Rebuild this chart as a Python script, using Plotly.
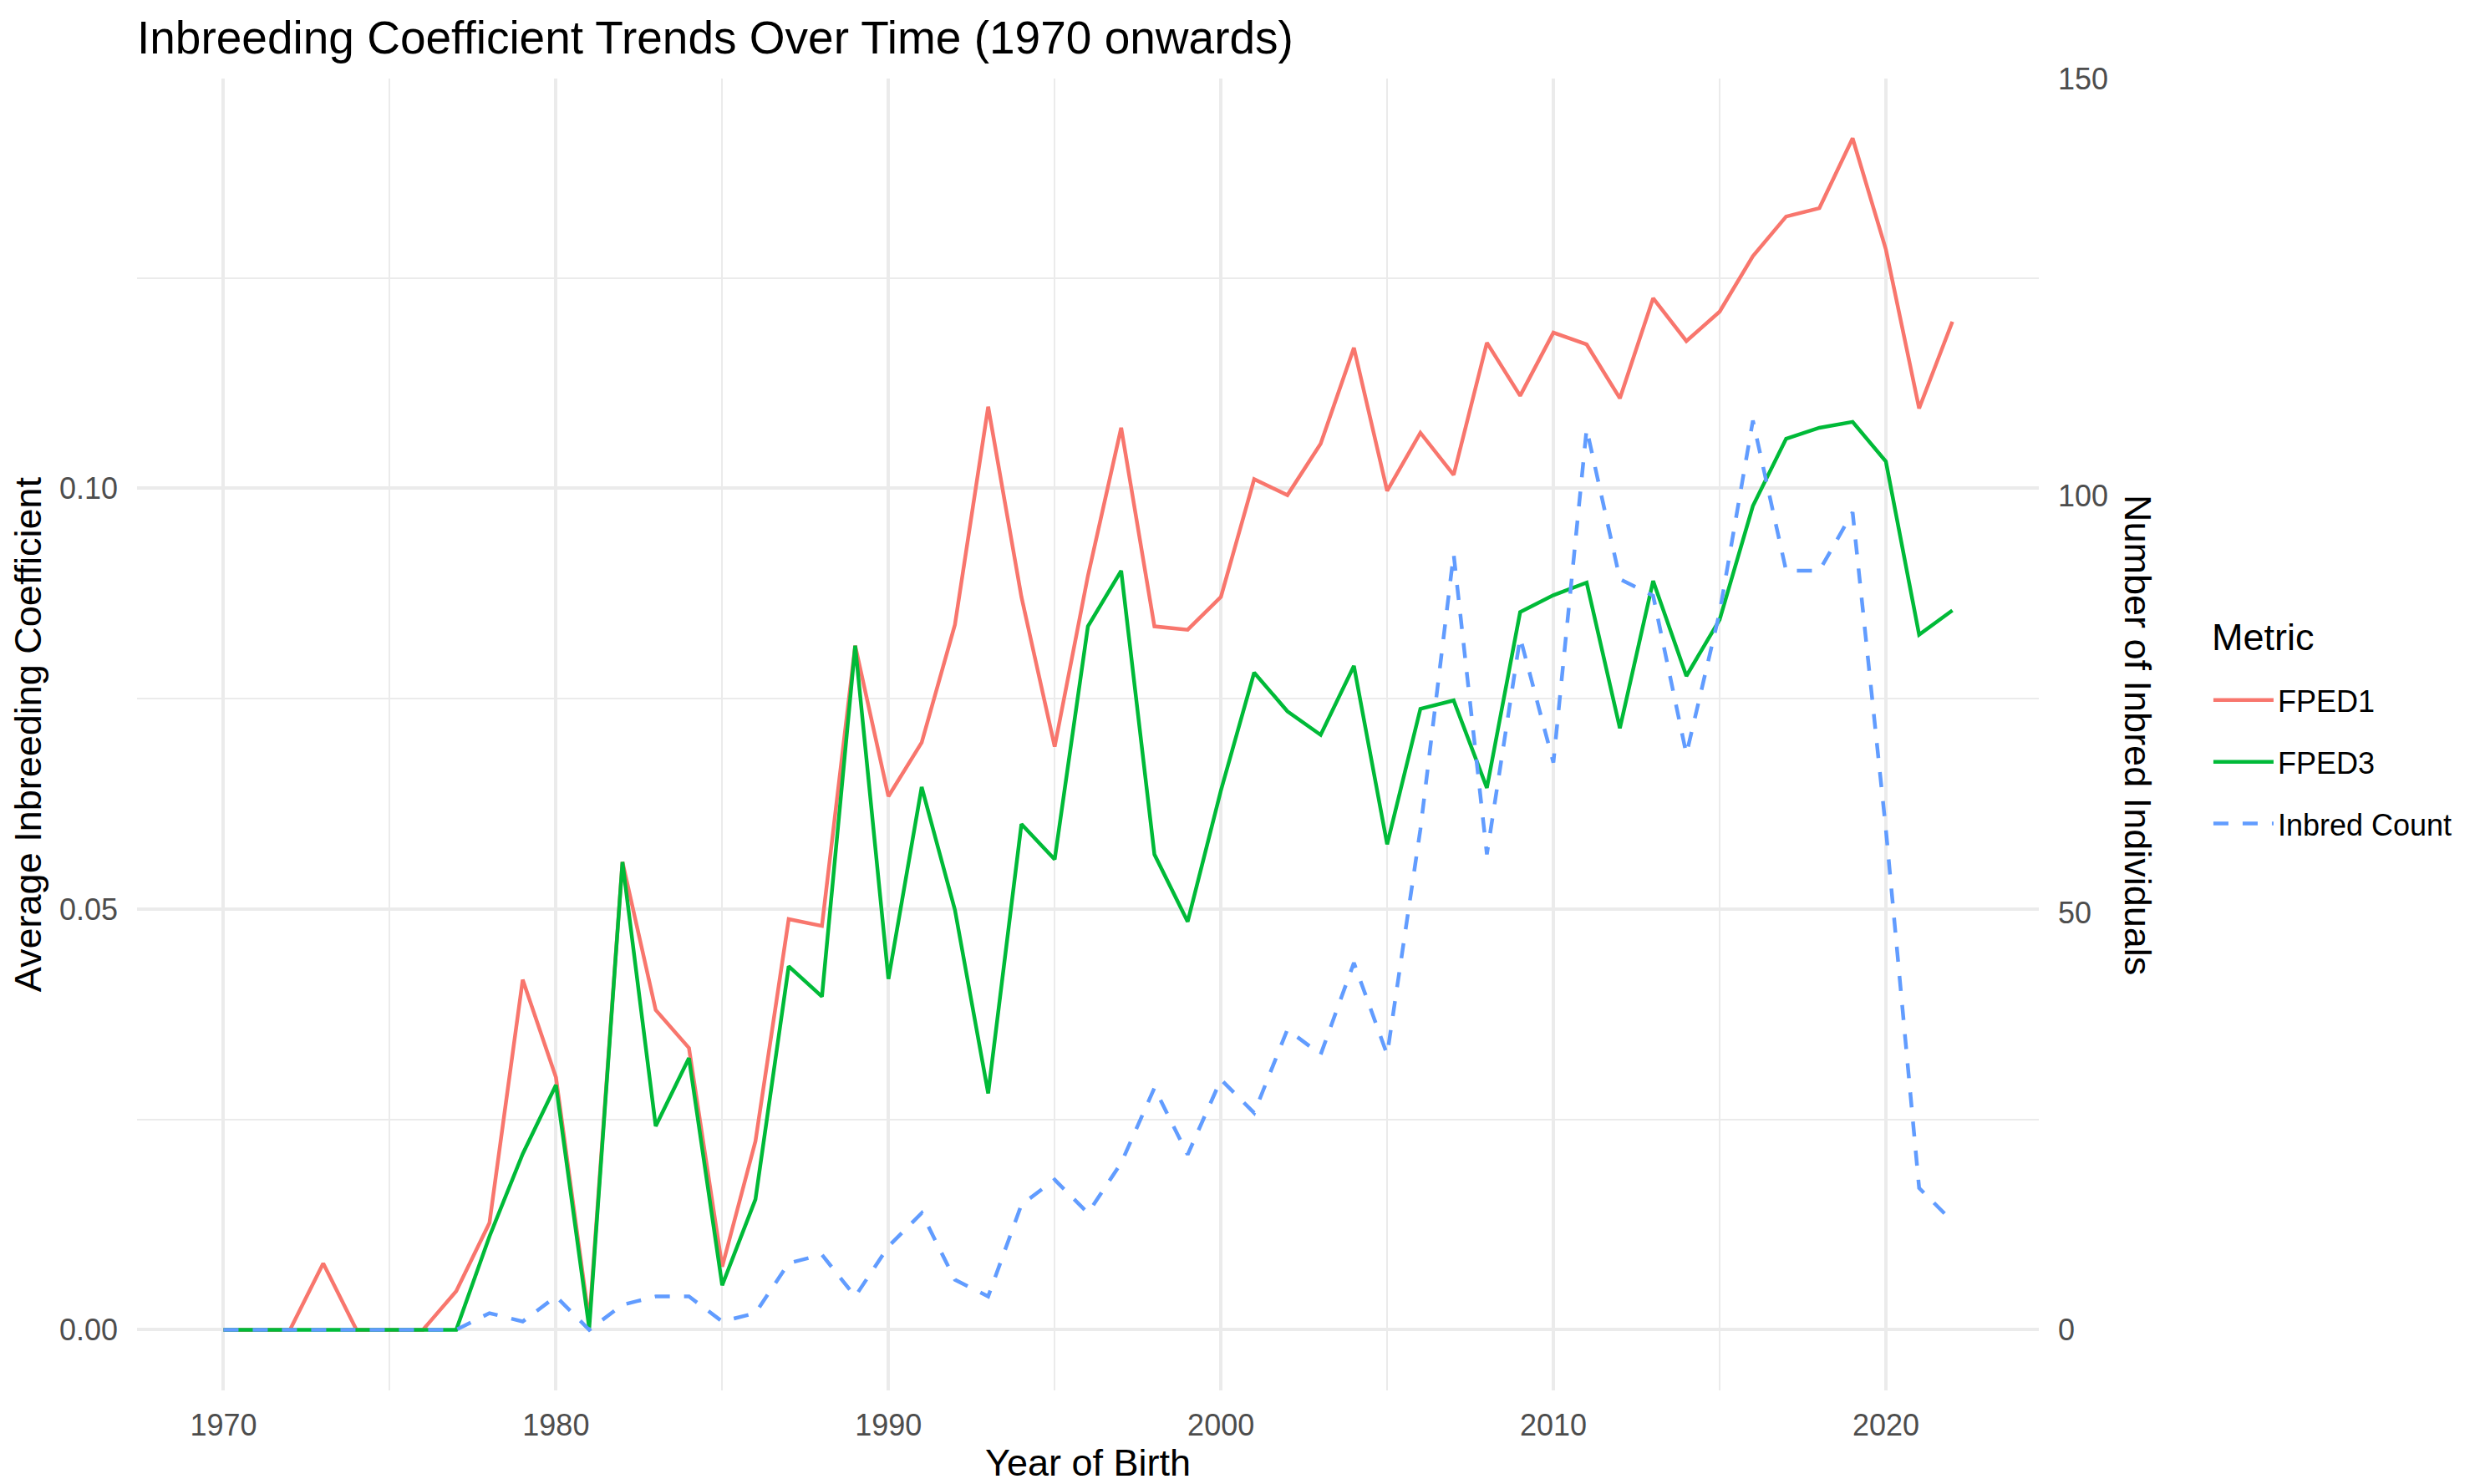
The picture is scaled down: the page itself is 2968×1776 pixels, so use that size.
import plotly.graph_objects as go

years = list(range(1970, 2023))

fped1 = [0, 0, 0, 0.0079, 0, 0, 0, 0.0046, 0.0127, 0.0416,
         0.0300, 0.0010, 0.0556, 0.0380, 0.0335, 0.0075, 0.0224, 0.0488, 0.0480, 0.0813,
         0.0634, 0.0698, 0.0838, 0.1097, 0.0871, 0.0693, 0.0896, 0.1072, 0.0836, 0.0832,
         0.0871, 0.1011, 0.0992, 0.1053, 0.1167, 0.0997, 0.1066, 0.1016, 0.1173, 0.1110,
         0.1185, 0.1171, 0.1107, 0.1226, 0.1175, 0.1210, 0.1276, 0.1323, 0.1333, 0.1416,
         0.1284, 0.1095, 0.1198]

fped3 = [0, 0, 0, 0, 0, 0, 0, 0, 0.0111, 0.0209,
         0.0291, 0.0002, 0.0556, 0.0242, 0.0323, 0.0053, 0.0155, 0.0432, 0.0396, 0.0813,
         0.0417, 0.0645, 0.0499, 0.0281, 0.0601, 0.0559, 0.0836, 0.0902, 0.0565, 0.0485,
         0.0641, 0.0781, 0.0735, 0.0707, 0.0789, 0.0577, 0.0738, 0.0748, 0.0644, 0.0853,
         0.0873, 0.0888, 0.0715, 0.0890, 0.0777, 0.0844, 0.0979, 0.1059, 0.1072, 0.1079,
         0.1032, 0.0826, 0.0855]

inbred_count = [0, 0, 0, 0, 0, 0, 0, 0, 2, 1,
                4, 0, 3, 4, 4, 1, 2, 8, 9, 4,
                10, 14, 6, 4, 15, 18, 14, 20, 29, 21,
                30, 26, 36, 33, 44, 33, 60, 93, 57, 83,
                68, 108, 90, 88, 69, 86, 109, 91, 91, 98,
                60, 17, 13]

# secondary axis is the left one scaled by this factor
scale = 1008.7
y_range = [-0.0072, 0.1487]

font = "Liberation Sans, Arial, sans-serif"
grid = "#EBEBEB"
tick_col = "#4D4D4D"

# page body has an 8px margin, so the figure is a bit smaller and shifted
W, H = 2960, 1768

fig = go.Figure()
fig.add_trace(go.Scatter(x=years, y=fped1, name="FPED1", mode="lines",
                         line=dict(color="#F8766D", width=4.5), legendgroup="a"))
fig.add_trace(go.Scatter(x=years, y=fped3, name="FPED3", mode="lines",
                         line=dict(color="#00BA38", width=4.5), legendgroup="b"))
fig.add_trace(go.Scatter(x=years, y=inbred_count, name="Inbred Count", mode="lines",
                         line=dict(color="#619CFF", width=4.5, dash="18px,17px"),
                         yaxis="y2", legendgroup="c"))

fig.update_layout(
    width=W, height=H,
    margin=dict(l=156, r=528, t=86, b=87, pad=0),
    paper_bgcolor="white", plot_bgcolor="white",
    font=dict(family=font, size=36, color="black"),
    title=dict(text="Inbreeding Coefficient Trends Over Time (1970 onwards)",
               font=dict(size=55, color="black"),
               x=156 / W, xanchor="left", xref="container",
               y=1 - 37 / H, yanchor="middle", yref="container"),
    xaxis=dict(range=[1967.4, 2024.6], tickvals=list(range(1970, 2030, 10)),
               showgrid=True, gridcolor=grid, gridwidth=4, zeroline=False, showline=False,
               minor=dict(dtick=5, tick0=1970, showgrid=True, gridcolor=grid, gridwidth=2),
               tickfont=dict(size=36, color=tick_col), ticklabelstandoff=17,
               title=dict(text="Year of Birth", font=dict(size=45, color="black"), standoff=6)),
    yaxis=dict(range=y_range, tickvals=[0, 0.05, 0.10], ticktext=["0.00", "0.05", "0.10"],
               showgrid=True, gridcolor=grid, gridwidth=4, zeroline=False, showline=False,
               minor=dict(dtick=0.025, tick0=0, showgrid=True, gridcolor=grid, gridwidth=2),
               tickfont=dict(size=36, color=tick_col), ticklabelstandoff=22,
               title=dict(text="Average Inbreeding Coefficient", font=dict(size=45, color="black"),
                          standoff=18)),
    yaxis2=dict(range=[y_range[0] * scale, y_range[1] * scale], tickvals=[0, 50, 100, 150],
                overlaying="y", side="right", showgrid=False, zeroline=False, showline=False,
                tickfont=dict(size=36, color=tick_col), ticklabelstandoff=22),
    legend=dict(font=dict(size=36, color="black"), x=1.0896, xanchor="left",
                y=0.479, yanchor="middle", itemwidth=72, tracegroupgap=24,
                bgcolor="rgba(0,0,0,0)"),
    annotations=[
        dict(text="Number of Inbred Individuals", textangle=90,
             xref="paper", yref="paper", x=(2559 - 164) / 2276, y=0.5,
             xanchor="center", yanchor="middle", showarrow=False,
             font=dict(size=45, color="black")),
        dict(text="Metric", xref="paper", yref="paper",
             x=(2645 - 164) / 2276, y=0.574,
             xanchor="left", yanchor="middle", showarrow=False,
             font=dict(size=45, color="black")),
    ],
)

fig.write_html("out.html")
